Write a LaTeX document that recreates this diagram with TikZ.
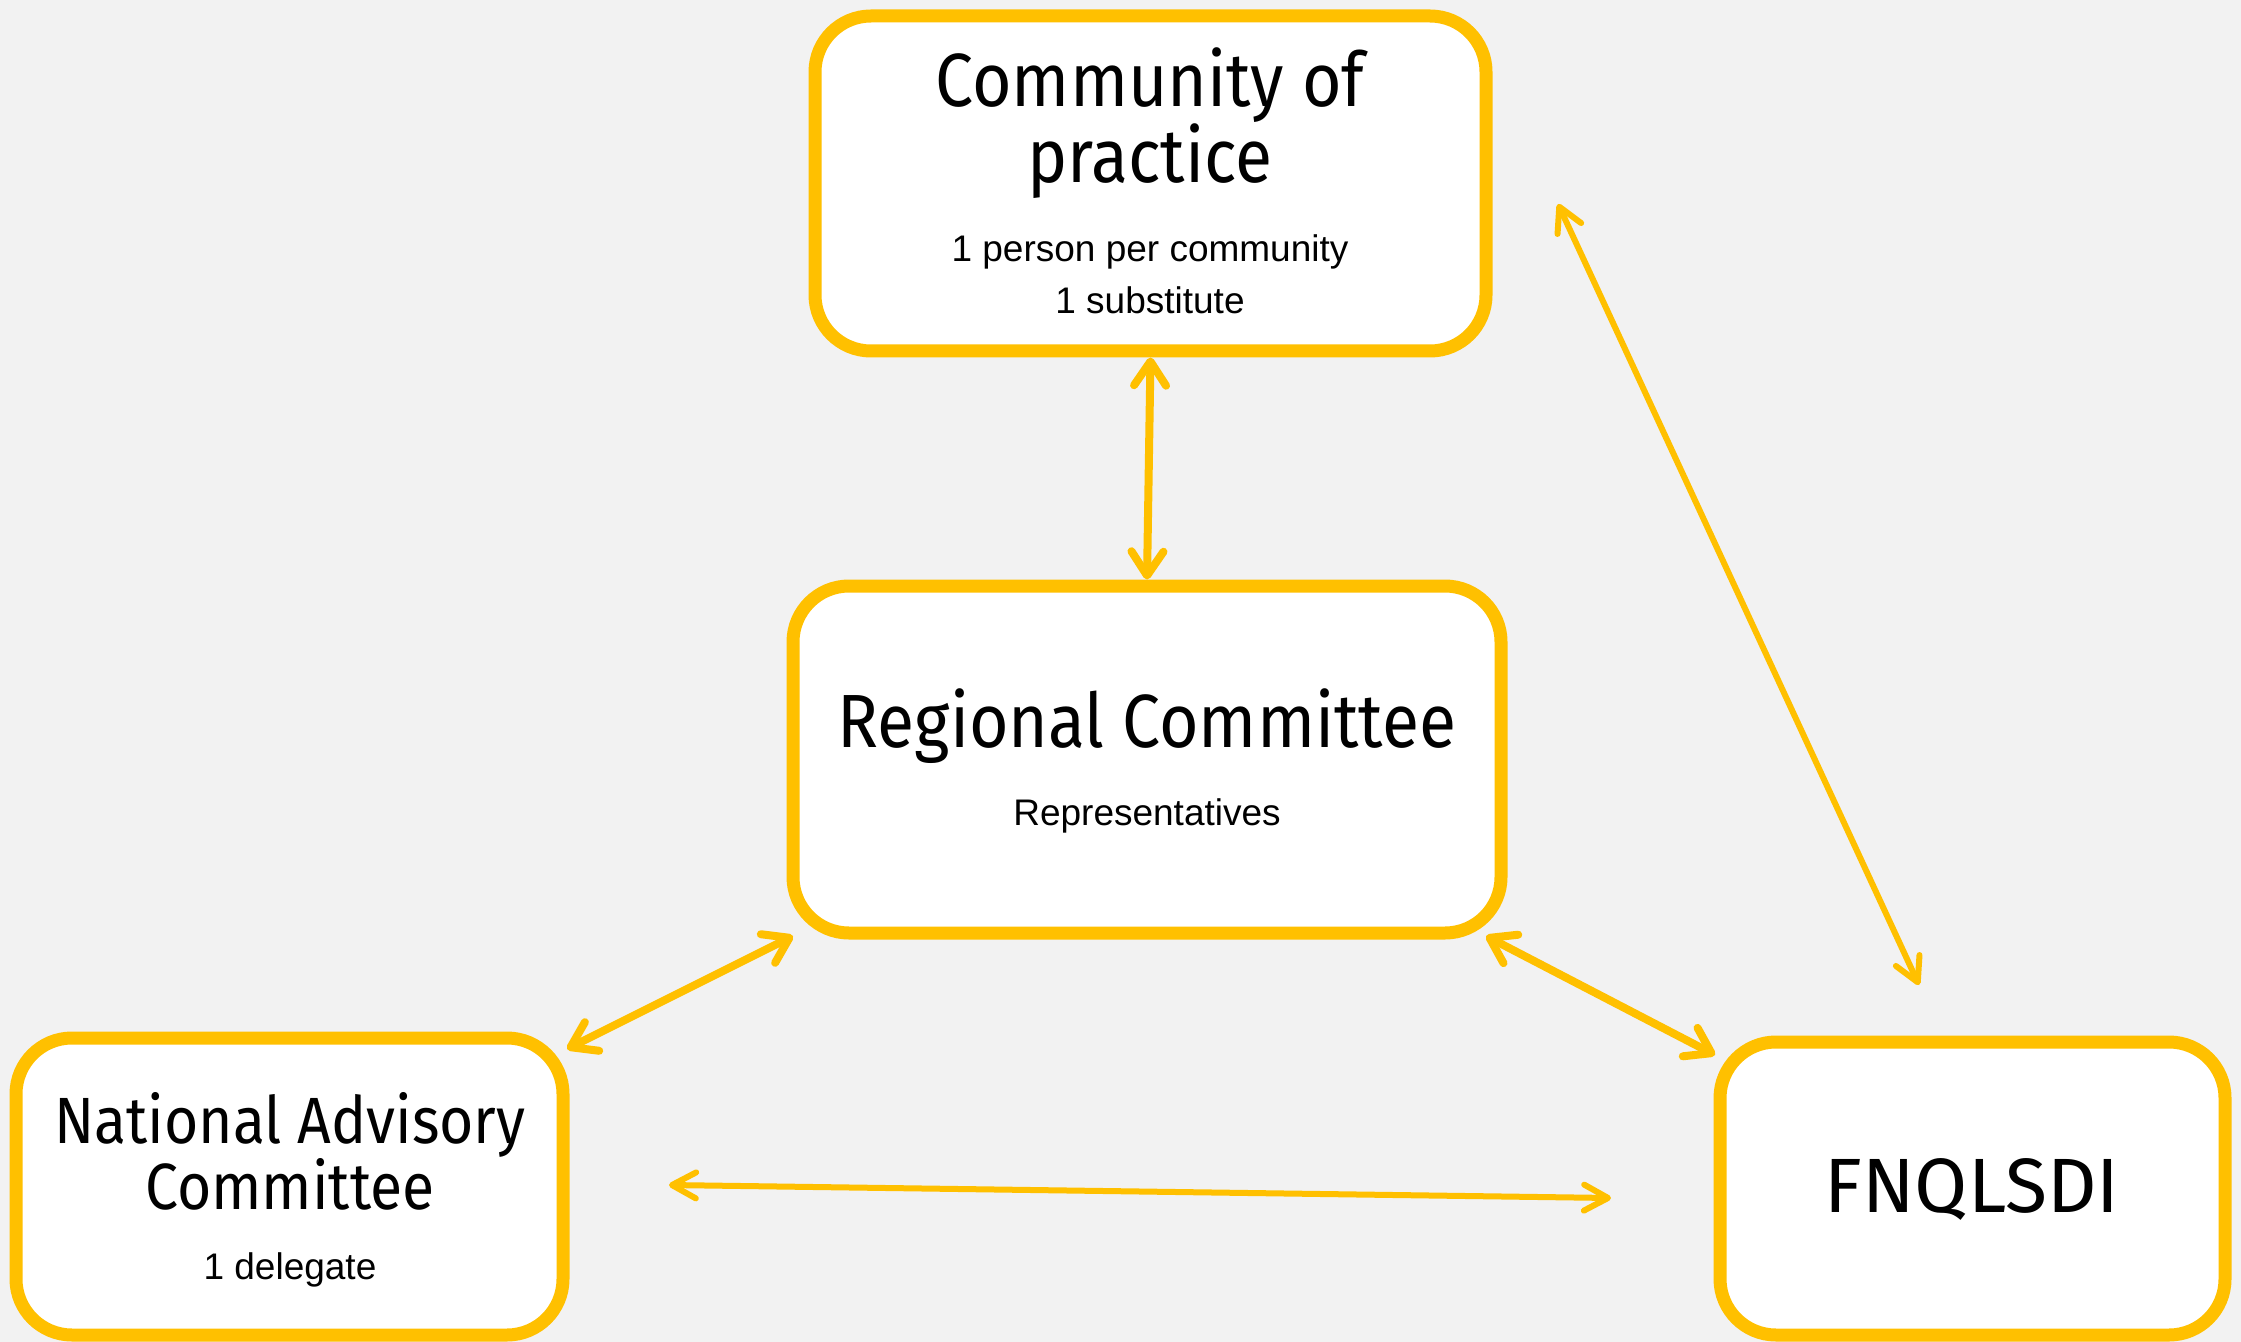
\documentclass[tikz,border=0pt]{standalone}
\usepackage{fontspec}
\setmainfont{Liberation Sans}
\newfontfamily\titlefont[FakeStretch=0.9]{Fira Sans}
\newfontfamily\widetitlefont{Fira Sans}
\usetikzlibrary{arrows.meta,calc}
\definecolor{gold}{HTML}{FFC000}
\definecolor{bg}{HTML}{F2F2F2}
\begin{document}
\begin{tikzpicture}[x=0.5pt,y=-0.5pt,
  box/.style={draw=gold, line width=6.5pt, fill=white, rounded corners=28pt, inner sep=0pt},
  title/.style={font=\titlefont\fontsize{37.7}{45}\selectfont, anchor=base, inner sep=0pt},
  widetitle/.style={font=\widetitlefont\fontsize{38.5}{45}\selectfont, anchor=base, inner sep=0pt},
  smalltitle/.style={font=\titlefont\fontsize{32.7}{40}\selectfont, anchor=base, inner sep=0pt},
  sub/.style={font=\fontsize{18.5}{22}\selectfont, anchor=base, inner sep=0pt},
  barb/.tip={Straight Barb[length=12pt,width=16pt,round]},
  thinbarb/.tip={Straight Barb[length=12pt,width=13pt,round]},
  link/.style={draw=gold, line width=4pt, barb-barb},
  thinlink/.style={draw=gold, line width=3pt, thinbarb-thinbarb}
]
\fill[bg] (0,0) rectangle (2241,1342);
\useasboundingbox (0,0) rectangle (2241,1342);

% boxes
\node[box, minimum width=335.5pt, minimum height=167.5pt] (cop) at (1150.5,183.5) {};
\node[box, minimum width=354pt, minimum height=173.5pt] (reg) at (1147,759.5) {};
\node[box, minimum width=273.5pt, minimum height=148.5pt] (nat) at (289.5,1186.5) {};
\node[box, minimum width=252.5pt, minimum height=146.5pt] (fnq) at (1972.5,1188.5) {};

% texts
\node[title] (cop1) at (1150,107) {Community of};
\node[title] (cop2) at (1150,183) {practice};
\node[sub] (cop3) at (1150,262) {1 person per community};
\node[sub] (cop4) at (1150,314) {1 substitute};

\node[title] (reg1) at (1147,747) {Regional Committee};
\node[sub] (reg2) at (1147,825) {Representatives};

\node[smalltitle] (nat1) at (290,1143) {National Advisory};
\node[smalltitle] (nat2) at (290,1209) {Committee};
\node[sub] (nat3) at (290,1279) {1 delegate};

\node[widetitle] (fnq1) at (1972,1212) {FNQLSDI};

% connector end points
\coordinate (rn1) at (793,936);
\coordinate (rn2) at (567,1049);
\coordinate (rf1) at (1486,936);
\coordinate (rf2) at (1715,1055);
\coordinate (nf1) at (669,1185);
\coordinate (nf2) at (1611,1198);
\coordinate (cf1) at (1558,204);
\coordinate (cf2) at (1919,985);

% connectors
\draw[link] (cop.south) -- (reg.north);
\draw[link] (rn1) -- (rn2);
\draw[link] (rf1) -- (rf2);
\draw[thinlink] (nf1) -- (nf2);
\draw[thinlink] (cf1) -- (cf2);
\end{tikzpicture}
\end{document}
